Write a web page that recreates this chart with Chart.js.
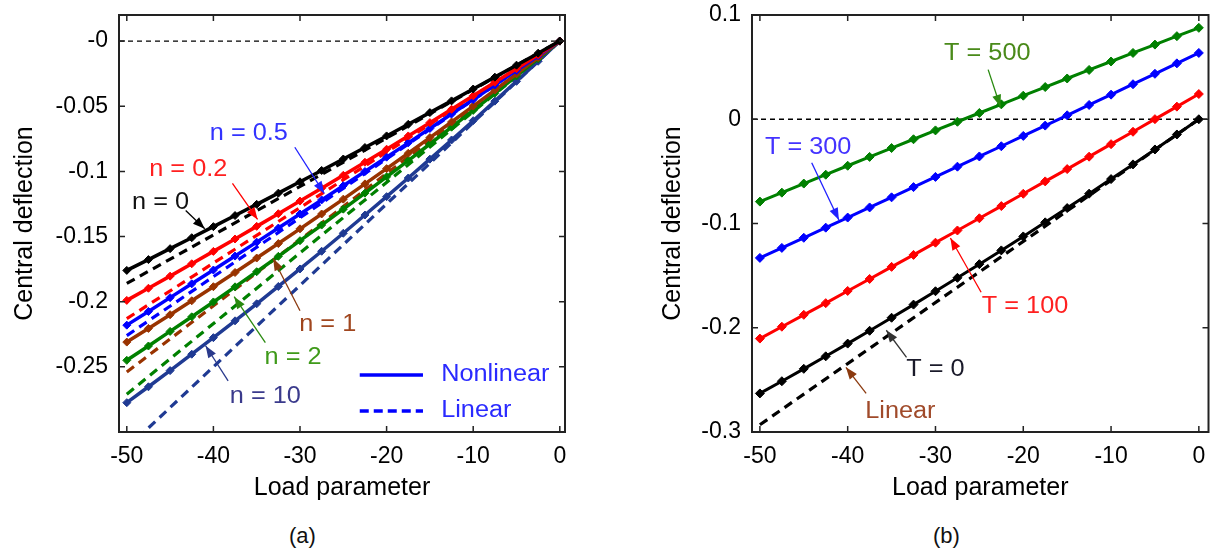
<!DOCTYPE html>
<html>
<head>
<meta charset="utf-8">
<script src="https://cdn.jsdelivr.net/npm/chart.js@4.4.1/dist/chart.umd.min.js"></script>
<style>
  html, body { margin: 0; padding: 0; background: #fff; }
  body { width: 1214px; height: 555px; position: relative; overflow: hidden; font-family: "Liberation Sans", Arial, sans-serif; }
  #wrapA { position: absolute; left: 0; top: 0; }
  #wrapB { position: absolute; left: 630px; top: 0; }
  .cap { position: absolute; top: 523px; font-size: 22px; color: #111; }
</style>
</head>
<body>
<div id="wrapA"><canvas id="chartA" width="610" height="506"></canvas></div>
<div id="wrapB"><canvas id="chartB" width="584" height="506"></canvas></div>
<div class="cap" style="left:289px">(a)</div>
<div class="cap" style="left:933px">(b)</div>
<script>
// load parameter samples (both panels)
const loadParam = [-50, -47.5, -45, -42.5, -40, -37.5, -35, -32.5, -30, -27.5, -25, -22.5, -20, -17.5, -15, -12.5, -10, -7.5, -5, -2.5, 0];
const linLoad = [-50, 0];

// (a) nonlinear central deflection for each n
const nl_n0  = [-0.176, -0.1677, -0.1593, -0.1509, -0.1424, -0.1339, -0.1253, -0.1167, -0.1080, -0.0993, -0.0905, -0.0817, -0.0728, -0.0639, -0.0549, -0.0459, -0.0368, -0.0277, -0.0185, -0.0093, 0];
const nl_n02 = [-0.199, -0.1897, -0.1804, -0.1709, -0.1614, -0.1519, -0.1422, -0.1325, -0.1228, -0.1129, -0.1030, -0.0930, -0.0830, -0.0728, -0.0626, -0.0524, -0.0420, -0.0316, -0.0212, -0.0106, 0];
const nl_n05 = [-0.218, -0.2075, -0.1969, -0.1863, -0.1757, -0.1650, -0.1543, -0.1435, -0.1327, -0.1219, -0.1110, -0.1001, -0.0891, -0.0781, -0.0671, -0.0560, -0.0449, -0.0337, -0.0225, -0.0113, 0];
const nl_n1  = [-0.231, -0.2205, -0.2100, -0.1993, -0.1885, -0.1776, -0.1665, -0.1554, -0.1441, -0.1327, -0.1213, -0.1096, -0.0979, -0.0861, -0.0741, -0.0621, -0.0499, -0.0376, -0.0252, -0.0126, 0];
const nl_n2  = [-0.245, -0.2340, -0.2228, -0.2116, -0.2002, -0.1886, -0.1770, -0.1652, -0.1532, -0.1412, -0.1290, -0.1167, -0.1042, -0.0917, -0.0790, -0.0661, -0.0532, -0.0401, -0.0268, -0.0135, 0];
const nl_n10 = [-0.2775, -0.2653, -0.2529, -0.2403, -0.2276, -0.2147, -0.2016, -0.1883, -0.1749, -0.1613, -0.1475, -0.1335, -0.1194, -0.1051, -0.0906, -0.0759, -0.0611, -0.0461, -0.0309, -0.0155, 0];

// (a) linear solutions (straight lines, end values)
const lin_n0  = [-0.186, 0];
const lin_n02 = [-0.213, 0];
const lin_n05 = [-0.226, 0];
const lin_n1  = [-0.254, 0];
const lin_n2  = [-0.271, 0];
const lin_n10 = [-0.3125, 0];

// (b) nonlinear central deflection for each T
const t0   = [-0.263, -0.2513, -0.2394, -0.2274, -0.2152, -0.2029, -0.1904, -0.1778, -0.1650, -0.1521, -0.1390, -0.1258, -0.1124, -0.0989, -0.0852, -0.0714, -0.0574, -0.0433, -0.0290, -0.0146, 0];
const t100 = [-0.2104, -0.1990, -0.1876, -0.1764, -0.1647, -0.1532, -0.1416, -0.1301, -0.1184, -0.1067, -0.0950, -0.0833, -0.0715, -0.0596, -0.0478, -0.0359, -0.0239, -0.0120, 0.0001, 0.0121, 0.0242];
const t300 = [-0.133, -0.1234, -0.1137, -0.1040, -0.0943, -0.0846, -0.0749, -0.0651, -0.0553, -0.0455, -0.0357, -0.0259, -0.0160, -0.0061, 0.0038, 0.0137, 0.0236, 0.0336, 0.0436, 0.0536, 0.0636];
const t500 = [-0.079, -0.0704, -0.0617, -0.0532, -0.0446, -0.0361, -0.0276, -0.0192, -0.0107, -0.0024, 0.0060, 0.0143, 0.0226, 0.0309, 0.0391, 0.0473, 0.0554, 0.0636, 0.0716, 0.0797, 0.0877];
const lin_t0 = [-0.293, 0];

// ticks
const xTicks = [-50, -40, -30, -20, -10, 0];
const yTicksA = [-0.25, -0.2, -0.15, -0.1, -0.05, 0];
const yTicksB = [-0.3, -0.2, -0.1, 0, 0.1];

const FONT = '"Liberation Sans", Arial, sans-serif';
Chart.defaults.font.family = FONT;
Chart.defaults.color = '#000';

function pts(xs, ys) {
  return xs.map((x, i) => ({ x: x, y: ys[i] }));
}

function nonlin(ys, color, r, w) {
  return {
    data: pts(loadParam, ys), borderColor: color, backgroundColor: color,
    borderWidth: w, pointStyle: 'rectRot', pointRadius: r, pointBorderWidth: 1, tension: 0
  };
}
function linear(ys, color) {
  return {
    data: pts(linLoad, ys), borderColor: color, backgroundColor: color,
    borderWidth: 3.2, borderDash: [9, 6], pointRadius: 0, tension: 0
  };
}

// box, inward ticks and the dashed zero line
const frame = {
  id: 'frame',
  beforeDatasetsDraw(chart) {
    const { ctx, chartArea: a, scales: { y } } = chart;
    const py = y.getPixelForValue(0);
    ctx.save();
    ctx.strokeStyle = '#000';
    ctx.lineWidth = 1.3;
    ctx.setLineDash([5, 4]);
    ctx.beginPath();
    ctx.moveTo(a.left, py);
    ctx.lineTo(a.right, py);
    ctx.stroke();
    ctx.restore();
  },
  afterDatasetsDraw(chart) {
    const { ctx, chartArea: a, scales: { x, y } } = chart;
    ctx.save();
    ctx.strokeStyle = '#222';
    ctx.lineWidth = 2;
    ctx.strokeRect(a.left, a.top, a.right - a.left, a.bottom - a.top);
    ctx.lineWidth = 1.5;
    ctx.beginPath();
    x.ticks.forEach(t => {
      const px = x.getPixelForValue(t.value);
      ctx.moveTo(px, a.bottom); ctx.lineTo(px, a.bottom - 6);
      ctx.moveTo(px, a.top); ctx.lineTo(px, a.top + 6);
    });
    y.ticks.forEach(t => {
      const py = y.getPixelForValue(t.value);
      ctx.moveTo(a.left, py); ctx.lineTo(a.left + 6, py);
      ctx.moveTo(a.right, py); ctx.lineTo(a.right - 6, py);
    });
    ctx.stroke();
    ctx.restore();
  }
};

// labels and arrows placed in data coordinates
function makeNotes(items) {
  return {
    id: 'notes',
    afterDraw(chart) {
      const { ctx, scales: { x, y } } = chart;
      ctx.save();
      items.forEach(it => {
        if (it.text) {
          ctx.save();
          ctx.translate(x.getPixelForValue(it.x), y.getPixelForValue(it.y));
          ctx.scale(1.1, 1);
          ctx.font = '23px ' + FONT;
          ctx.fillStyle = it.color;
          ctx.textAlign = it.align || 'center';
          ctx.textBaseline = 'middle';
          ctx.fillText(it.text, 0, 0);
          ctx.restore();
        } else if (it.arrow) {
          const x1 = x.getPixelForValue(it.arrow[0]), y1 = y.getPixelForValue(it.arrow[1]);
          const x2 = x.getPixelForValue(it.arrow[2]), y2 = y.getPixelForValue(it.arrow[3]);
          const ang = Math.atan2(y2 - y1, x2 - x1);
          ctx.strokeStyle = it.color;
          ctx.fillStyle = it.color;
          ctx.lineWidth = 1.3;
          ctx.setLineDash([]);
          ctx.beginPath();
          ctx.moveTo(x1, y1);
          ctx.lineTo(x2, y2);
          ctx.stroke();
          ctx.beginPath();
          ctx.moveTo(x2, y2);
          ctx.lineTo(x2 - 12 * Math.cos(ang) + 4.5 * Math.sin(ang), y2 - 12 * Math.sin(ang) - 4.5 * Math.cos(ang));
          ctx.lineTo(x2 - 12 * Math.cos(ang) - 4.5 * Math.sin(ang), y2 - 12 * Math.sin(ang) + 4.5 * Math.cos(ang));
          ctx.closePath();
          ctx.fill();
        } else if (it.line) {
          ctx.strokeStyle = it.color;
          ctx.lineWidth = 3.5;
          ctx.setLineDash(it.dash || []);
          ctx.beginPath();
          ctx.moveTo(x.getPixelForValue(it.line[0]), y.getPixelForValue(it.line[2]));
          ctx.lineTo(x.getPixelForValue(it.line[1]), y.getPixelForValue(it.line[2]));
          ctx.stroke();
          ctx.setLineDash([]);
        }
      });
      ctx.restore();
    }
  };
}

function axes(xMin, xMax, yMin, yMax, yTicks, yLabel, yWidth, yTitlePad) {
  return {
    x: {
      type: 'linear', min: xMin, max: xMax,
      grid: { display: false, drawTicks: false }, border: { display: false },
      afterBuildTicks: s => { s.ticks = xTicks.map(v => ({ value: v })); },
      afterFit: s => { s.height = 74; s.paddingLeft = 0; s.paddingRight = 0; },
      ticks: { autoSkip: false, maxRotation: 0, padding: 11, font: { size: 23 }, color: '#000', callback: v => String(v) },
      title: { display: true, text: 'Load parameter', font: { size: 25 }, color: '#000', padding: { top: 0, bottom: 3 } }
    },
    y: {
      type: 'linear', min: yMin, max: yMax,
      grid: { display: false, drawTicks: false }, border: { display: false },
      afterBuildTicks: s => { s.ticks = yTicks.map(v => ({ value: v })); },
      afterFit: s => { s.width = yWidth; s.paddingTop = 0; s.paddingBottom = 0; },
      ticks: { autoSkip: false, padding: 11, font: { size: 23 }, color: '#000', callback: yLabel },
      title: { display: true, text: 'Central deflection', font: { size: 25 }, color: '#000', padding: { top: yTitlePad, bottom: 0 } }
    }
  };
}

const notesA = [
  { text: 'n = 0.5', x: -35.9, y: -0.0708, color: '#3333ff' },
  { arrow: [-30.6, -0.0815, -27.2, -0.1169], color: '#2020ff' },
  { text: 'n = 0.2', x: -42.9, y: -0.0985, color: '#ff2020' },
  { arrow: [-37.8, -0.1092, -34.9, -0.1369], color: '#ff0000' },
  { text: 'n = 0', x: -46.1, y: -0.1238, color: '#111111' },
  { arrow: [-43.2, -0.1300, -41.0, -0.1440], color: '#000000' },
  { text: 'n = 1', x: -26.8, y: -0.2177, color: '#a0461e' },
  { arrow: [-30.0, -0.2069, -33.1, -0.1669], color: '#8b3a0f' },
  { text: 'n = 2', x: -30.8, y: -0.2431, color: '#3f9a1a' },
  { arrow: [-34.0, -0.2315, -37.6, -0.1962], color: '#2a8a10' },
  { text: 'n = 10', x: -34.0, y: -0.2731, color: '#3a3a8c' },
  { arrow: [-38.3, -0.2608, -40.9, -0.2338], color: '#2a3a8c' },
  { line: [-23.1, -15.8, -0.2562], color: '#0000ff' },
  { text: 'Nonlinear', x: -13.7, y: -0.2562, color: '#2a2aff', align: 'left' },
  { line: [-23.1, -15.8, -0.2838], color: '#0000ff', dash: [9, 5] },
  { text: 'Linear', x: -13.7, y: -0.2838, color: '#2a2aff', align: 'left' }
];

const notesB = [
  { text: 'T = 500', x: -24.1, y: 0.063, color: '#4a8a1a' },
  { arrow: [-24.0, 0.0476, -22.6, 0.012], color: '#2a8a10' },
  { text: 'T = 300', x: -44.5, y: -0.0274, color: '#4433ff' },
  { arrow: [-44.1, -0.0418, -41.0, -0.0966], color: '#2020ff' },
  { text: 'T = 100', x: -19.8, y: -0.1793, color: '#ff2020' },
  { arrow: [-24.8, -0.1659, -28.3, -0.1139], color: '#ff0000' },
  { text: 'T = 0', x: -30.0, y: -0.2399, color: '#1a1a2a' },
  { arrow: [-33.3, -0.2284, -35.6, -0.2024], color: '#333333' },
  { text: 'Linear', x: -34.0, y: -0.2803, color: '#a04a2a' },
  { arrow: [-37.9, -0.263, -40.2, -0.238], color: '#8b3a0f' }
];

new Chart(document.getElementById('chartA'), {
  type: 'line',
  data: {
    datasets: [
      nonlin(nl_n0, '#000000', 4, 3.5), nonlin(nl_n02, '#ff0000', 4, 3.5), nonlin(nl_n05, '#0000ff', 4, 3.5),
      nonlin(nl_n1, '#993300', 4, 3.5), nonlin(nl_n2, '#008000', 4, 3.5), nonlin(nl_n10, '#1f3a93', 4, 3.5),
      linear(lin_n0, '#000000'), linear(lin_n02, '#ff0000'), linear(lin_n05, '#0000ff'),
      linear(lin_n1, '#993300'), linear(lin_n2, '#008000'), linear(lin_n10, '#1f3a93')
    ]
  },
  options: {
    responsive: false, animation: false,
    layout: { padding: { top: 15, right: 45, left: 0, bottom: 0 } },
    plugins: { legend: { display: false }, tooltip: { enabled: false } },
    scales: axes(-50.9, 0.6, -0.3, 0.02, yTicksA, v => (v === 0 ? '-0' : String(v)), 119, 10)
  },
  plugins: [frame, makeNotes(notesA)]
});

new Chart(document.getElementById('chartB'), {
  type: 'line',
  data: {
    datasets: [
      nonlin(t0, '#000000', 4.5, 3), nonlin(t100, '#ff0000', 4.5, 3),
      nonlin(t300, '#0000ff', 4.5, 3), nonlin(t500, '#008000', 4.5, 3),
      linear(lin_t0, '#000000')
    ]
  },
  options: {
    responsive: false, animation: false,
    layout: { padding: { top: 15, right: 2, left: 0, bottom: 0 } },
    plugins: { legend: { display: false }, tooltip: { enabled: false } },
    scales: axes(-50.9, 1.1, -0.3, 0.1, yTicksB, v => String(v), 122, 28)
  },
  plugins: [frame, makeNotes(notesB)]
});
</script>
</body>
</html>
